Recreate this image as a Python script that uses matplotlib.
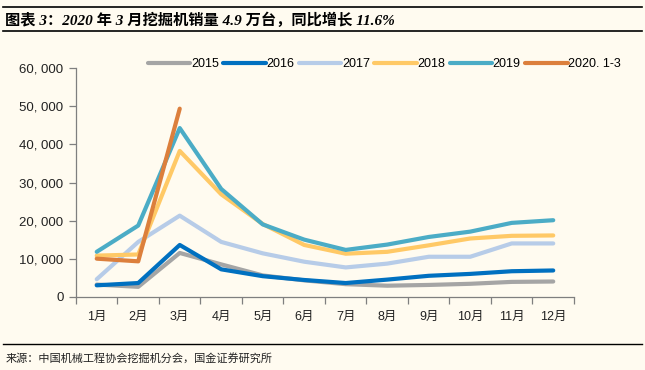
import numpy as np
import matplotlib.pyplot as plt

# 数据
months = ['1月', '2月', '3月', '4月', '5月', '6月', '7月', '8月', '9月', '10月', '11月', '12月']
s2015 = [3200, 2600, 11500, 8500, 5600, 4300, 3300, 2900, 3100, 3400, 3900, 4000]
s2016 = [3000, 3600, 13600, 7200, 5400, 4400, 3600, 4500, 5500, 6000, 6700, 6900]
s2017 = [4600, 14400, 21300, 14400, 11400, 9200, 7700, 8700, 10500, 10500, 14000, 14000]
s2018 = [10800, 11100, 38300, 26900, 19100, 13600, 11300, 11800, 13500, 15300, 16000, 16100]
s2019 = [11800, 18700, 44300, 28300, 19000, 15000, 12300, 13700, 15700, 17100, 19400, 20100]
s2020 = [10000, 9300, 49400]

series = ['2015', '2016', '2017', '2018', '2019', '2020. 1-3']
values = [s2015, s2016, s2017, s2018, s2019, s2020]
colors = ['#A5A5A5', '#0070C0', '#B7CCE8', '#FFC966', '#4BACC6', '#DC7F3C']

bg = '#FFFBF0'
latin = ['Liberation Sans', 'Noto Sans CJK SC']

fig = plt.figure(figsize=(6.45, 3.70), dpi=100, facecolor=bg)
ax = fig.add_axes([0.1178, 0.198, 0.7721, 0.6174], facecolor=bg)

x = np.arange(len(months))
for name, vals, c in zip(series, values, colors):
    ax.plot(x[:len(vals)], vals, color=c, lw=3.0, label=name, solid_capstyle='round')

ax.set_xlim(-0.5, 11.5)
ax.set_ylim(0, 60000)
ax.set_yticks(np.arange(0, 60001, 10000))
ax.set_yticklabels([f'{v:,}'.replace(',', ', ') for v in range(0, 60001, 10000)],
                   fontsize=9.5, family=latin, color='#222222')
ax.set_xticks(x)
ax.set_xticklabels(months, fontsize=9, family=latin, color='#222222')
ax.set_xticks(np.arange(-0.5, 12, 1), minor=True)
ax.tick_params(axis='x', which='major', length=0, pad=10)
ax.tick_params(axis='x', which='minor', length=5, color='#7F7F7F', width=0.9)
ax.tick_params(axis='y', length=5, color='#7F7F7F', width=0.9, pad=4)
for s in ['top', 'right']:
    ax.spines[s].set_visible(False)
for s in ['left', 'bottom']:
    ax.spines[s].set_color('#7F7F7F')
    ax.spines[s].set_linewidth(0.9)

fig.legend(loc='center', bbox_to_anchor=(0.596, 0.827), ncol=6, frameon=False,
           prop={'family': latin, 'size': 9}, handlelength=3.4,
           handletextpad=0.05, columnspacing=0.35, borderpad=0)

# 标题与来源
fig.add_artist(plt.Line2D([0.005, 0.995], [1 - 7 / 370, 1 - 7 / 370], color='black', lw=1.2))
fig.add_artist(plt.Line2D([0.005, 0.995], [1 - 31 / 370, 1 - 31 / 370], color='black', lw=1.2))
fig.text(0.008, 1 - 20 / 370, '图表 3：2020 年 3 月挖掘机销量 4.9 万台，同比增长 11.6%',
         fontsize=11, fontweight='bold', style='italic',
         family=['Liberation Serif', 'Noto Sans CJK SC'], va='center', ha='left')
fig.add_artist(plt.Line2D([0.005, 0.995], [1 - 344 / 370, 1 - 344 / 370], color='black', lw=1.0))
fig.text(0.008, 1 - 358 / 370, '来源：中国机械工程协会挖掘机分会，国金证券研究所',
         fontsize=8, family=['Noto Sans CJK SC'], va='center', ha='left', color='#222222')

fig.savefig('out.png', dpi=100, facecolor=bg)
